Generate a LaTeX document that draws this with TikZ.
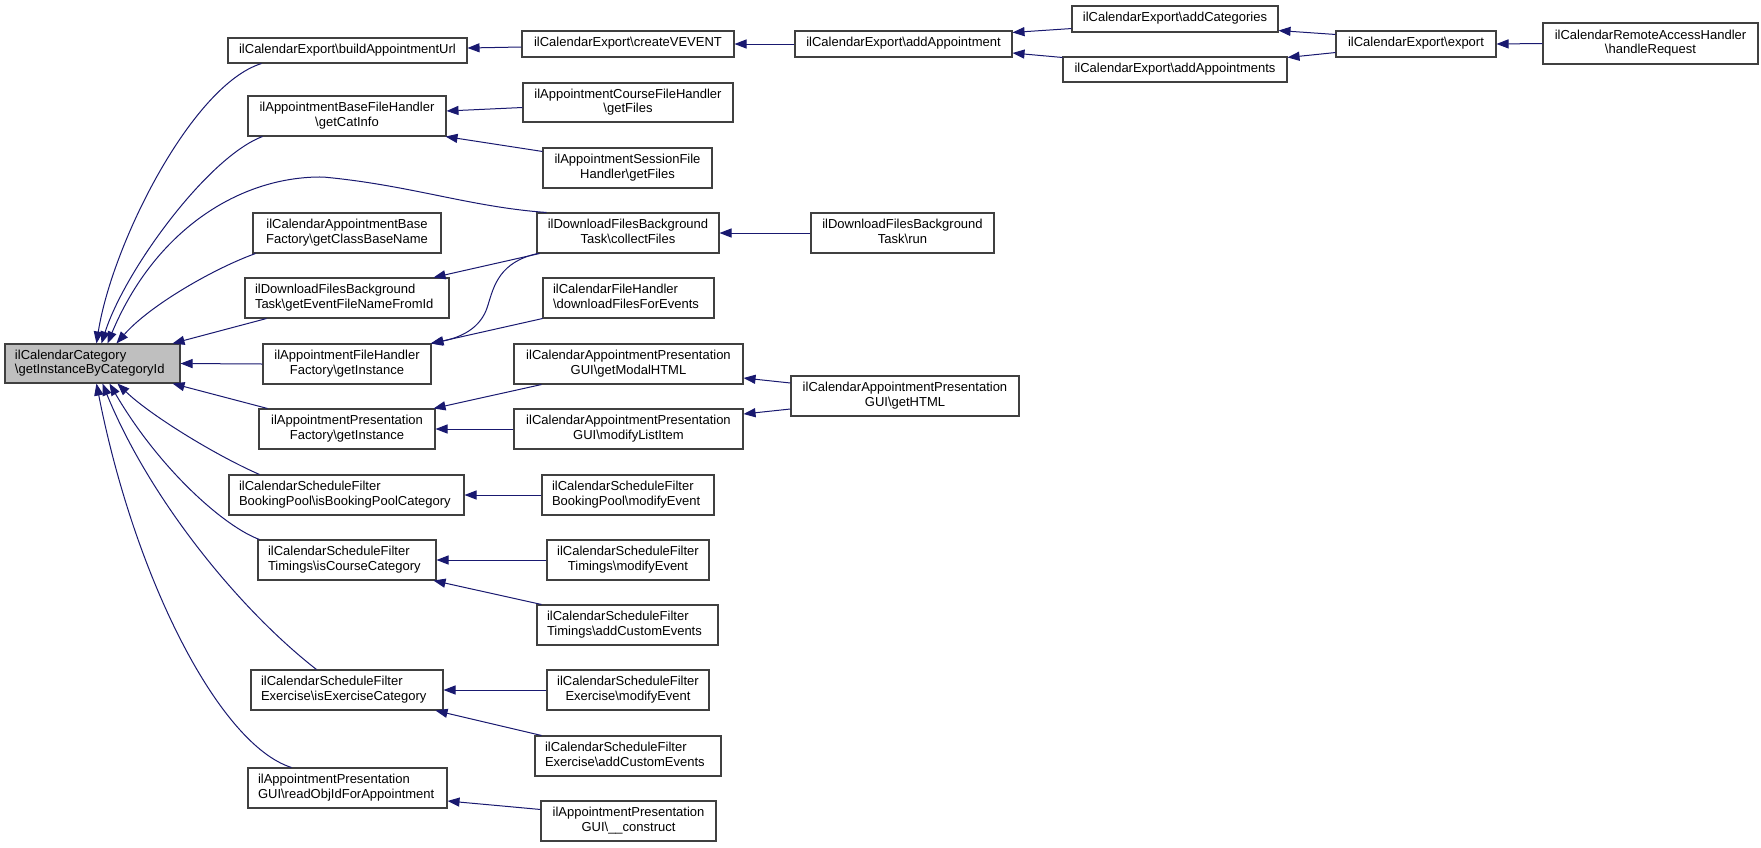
\documentclass[tikz,border=0pt]{standalone}
\usepackage{fontspec}
\usepackage{graphicx}
\setmainfont{Liberation Sans}
\usetikzlibrary{arrows.meta,calc}
\definecolor{edgec}{HTML}{191970}
\definecolor{rootfill}{HTML}{BFBFBF}
\definecolor{boxline}{HTML}{404040}
\newcommand\boxfont{\fontsize{9.75pt}{11pt}\selectfont}
\tikzset{
  box/.style={draw=boxline,line width=0.8pt,fill=white,inner xsep=7.5pt,inner ysep=0pt,font=\boxfont},
  rootbox/.style={fill=rootfill},
  edge/.style={draw=edgec,line width=0.75pt,-{Triangle[length=9pt,width=6.8pt]}},
}
\newsavebox\tbox
\newcommand\fitc[3]{%
  \sbox\tbox{\begin{tabular}{@{}#2@{}}#3\end{tabular}}%
  \ifdim\wd\tbox>#1pt\relax\resizebox{#1pt}{\height}{\usebox\tbox}%
  \else\makebox[#1pt][#2]{\usebox\tbox}\fi}
\newcommand\bx[8][]{%
  \pgfmathsetmacro\bw{(#5-#3)*0.75-15}%
  \pgfmathsetmacro\bh{(#6-#4)*0.75}%
  \node[box,#1,minimum height=\bh pt] (#2) at ({(#3+#5)/2},{(#4+#6)/2}) {\fitc{\bw}{#7}{#8}};}
\newcommand\bs{\textbackslash}
\begin{document}
\begin{tikzpicture}[x=0.75pt,y=-0.75pt]
\fill[white] (0,0) rectangle (1761,847);
\useasboundingbox (0,0) rectangle (1761,847);
% root
\bx[rootbox]{R}{5}{344}{180}{383}{l}{ilCalendarCategory\\\bs getInstanceByCategoryId}
% column 2
\bx{bau}{228}{38}{467}{63}{c}{ilCalendarExport\bs buildAppointmentUrl}
\bx{gci}{248}{96}{446}{136}{c}{ilAppointmentBaseFileHandler\\\bs getCatInfo}
\bx{gcbn}{253}{213}{441}{253}{c}{ilCalendarAppointmentBase\\Factory\bs getClassBaseName}
\bx{gefn}{245}{278}{449}{318}{l}{ilDownloadFilesBackground\\Task\bs getEventFileNameFromId}
\bx{afh}{263}{344}{431}{384}{c}{ilAppointmentFileHandler\\Factory\bs getInstance}
\bx{apf}{259}{409}{435}{449}{c}{ilAppointmentPresentation\\Factory\bs getInstance}
\bx{bpc}{229}{475}{464}{515}{l}{ilCalendarScheduleFilter\\BookingPool\bs isBookingPoolCategory}
\bx{icc}{258}{540}{436}{580}{l}{ilCalendarScheduleFilter\\Timings\bs isCourseCategory}
\bx{iec}{251}{670}{443}{710}{l}{ilCalendarScheduleFilter\\Exercise\bs isExerciseCategory}
\bx{roi}{248}{768}{447}{808}{l}{ilAppointmentPresentation\\GUI\bs readObjIdForAppointment}
% column 3
\bx{cve}{522}{31}{734}{57}{c}{ilCalendarExport\bs createVEVENT}
\bx{cfg}{523}{83}{733}{122}{c}{ilAppointmentCourseFileHandler\\\bs getFiles}
\bx{sfg}{543}{148}{712}{188}{c}{ilAppointmentSessionFile\\Handler\bs getFiles}
\bx{clf}{537}{213}{719}{253}{c}{ilDownloadFilesBackground\\Task\bs collectFiles}
\bx{dfe}{543}{278}{714}{318}{l}{ilCalendarFileHandler\\\bs downloadFilesForEvents}
\bx{gmh}{514}{344}{743}{384}{c}{ilCalendarAppointmentPresentation\\GUI\bs getModalHTML}
\bx{mli}{514}{409}{743}{449}{c}{ilCalendarAppointmentPresentation\\GUI\bs modifyListItem}
\bx{bpme}{542}{475}{714}{515}{l}{ilCalendarScheduleFilter\\BookingPool\bs modifyEvent}
\bx{tme}{547}{540}{709}{580}{c}{ilCalendarScheduleFilter\\Timings\bs modifyEvent}
\bx{tace}{537}{605}{718}{645}{l}{ilCalendarScheduleFilter\\Timings\bs addCustomEvents}
\bx{eme}{547}{670}{709}{710}{c}{ilCalendarScheduleFilter\\Exercise\bs modifyEvent}
\bx{eace}{535}{736}{721}{776}{l}{ilCalendarScheduleFilter\\Exercise\bs addCustomEvents}
\bx{con}{541}{801}{716}{841}{c}{ilAppointmentPresentation\\GUI\bs\_\_construct}
% column 4
\bx{aap}{795}{31}{1012}{57}{c}{ilCalendarExport\bs addAppointment}
\bx{run}{811}{213}{994}{253}{c}{ilDownloadFilesBackground\\Task\bs run}
\bx{ghtml}{791}{376}{1019}{416}{c}{ilCalendarAppointmentPresentation\\GUI\bs getHTML}
% columns 5..7
\bx{acat}{1072}{6}{1278}{32}{c}{ilCalendarExport\bs addCategories}
\bx{aaps}{1063}{57}{1287}{82}{c}{ilCalendarExport\bs addAppointments}
\bx{exp}{1336}{31}{1496}{57}{c}{ilCalendarExport\bs export}
\bx{hr}{1543}{23}{1758}{64}{c}{ilCalendarRemoteAccessHandler\\\bs handleRequest}
% edges into root
\draw[edge] ($(bau.south west)+(34,0)$) .. controls (192,85) and (112,244) .. ($(R.north west)+(92,0)$);
\draw[edge] ($(gci.south west)+(15,0)$) .. controls (208,157) and (125,270) .. ($(R.north west)+(97,0)$);
\draw[edge] ($(clf.north west)+(10,0)$) .. controls (470,207) and (410,185) .. (323,177)
   .. controls (240,176) and (155,230) .. ($(R.north west)+(103,0)$);
\draw[edge] ($(gcbn.south west)+(3,0)$) .. controls (215,268) and (150,305) .. ($(R.north west)+(112,0)$);
\draw[edge] ($(gefn.south west)+(22,0)$) -- ($(R.north east)+(-8,0)$);
\draw[edge] (afh.west) -- (R.east);
\draw[edge] ($(apf.north west)+(9,0)$) -- ($(R.south east)+(-8,0)$);
\draw[edge] ($(bpc.north west)+(31,0)$) .. controls (215,455) and (150,415) .. ($(R.south west)+(113,0)$);
\draw[edge] ($(icc.north west)+(2,0)$) .. controls (225,527) and (160,470) .. ($(R.south west)+(105,0)$);
\draw[edge] ($(iec.north west)+(66,0)$) .. controls (240,610) and (150,500) .. ($(R.south west)+(98,0)$);
\draw[edge] ($(roi.north west)+(44,0)$) .. controls (220,745) and (135,580) .. ($(R.south west)+(92,0)$);
% other edges
\draw[edge] ($(cve.west)+(0,3)$) -- ($(bau.east)+(0,-2.5)$);
\draw[edge] (aap.west) -- (cve.east);
\draw[edge] ($(acat.south west)+(0,-4)$) -- ($(aap.north east)+(0,2)$);
\draw[edge] ($(aaps.north west)+(0,1)$) -- ($(aap.east)+(0,9)$);
\draw[edge] ($(exp.north west)+(0,4)$) -- ($(acat.south east)+(0,-2)$);
\draw[edge] ($(exp.south west)+(0,-5)$) -- ($(aaps.north east)+(0,1)$);
\draw[edge] (hr.west) -- (exp.east);
\draw[edge] ($(cfg.west)+(0,5)$) -- ($(gci.east)+(0,-5)$);
\draw[edge] ($(sfg.north west)+(0,4)$) -- ($(gci.south east)+(-1,0)$);
\draw[edge] ($(clf.south west)+(3,0)$) -- ($(gefn.north east)+(-16,0)$);
\draw[edge] ($(clf.south west)+(1,0)$) .. controls (500,262) and (494,285) .. (488,305)
   .. controls (481,330) and (458,338) .. ($(afh.north east)+(-1,0)$);
\draw[edge] (dfe.south west) -- (afh.north east);
\draw[edge] (run.west) -- (clf.east);
\draw[edge] ($(gmh.south west)+(28,0)$) -- ($(apf.north east)+(-2,0)$);
\draw[edge] (mli.west) -- (apf.east);
\draw[edge] ($(ghtml.west)+(0,-13)$) -- ($(gmh.east)+(0,14)$);
\draw[edge] ($(ghtml.west)+(0,13)$) -- ($(mli.east)+(0,-15)$);
\draw[edge] (bpme.west) -- (bpc.east);
\draw[edge] (tme.west) -- (icc.east);
\draw[edge] ($(tace.north west)+(5,0)$) -- ($(icc.south east)+(-3,0)$);
\draw[edge] (eme.west) -- (iec.east);
\draw[edge] ($(eace.north west)+(7,0)$) -- ($(iec.south east)+(-8,0)$);
\draw[edge] ($(con.north west)+(0,9)$) -- ($(roi.east)+(0,13)$);
\end{tikzpicture}
\end{document}
